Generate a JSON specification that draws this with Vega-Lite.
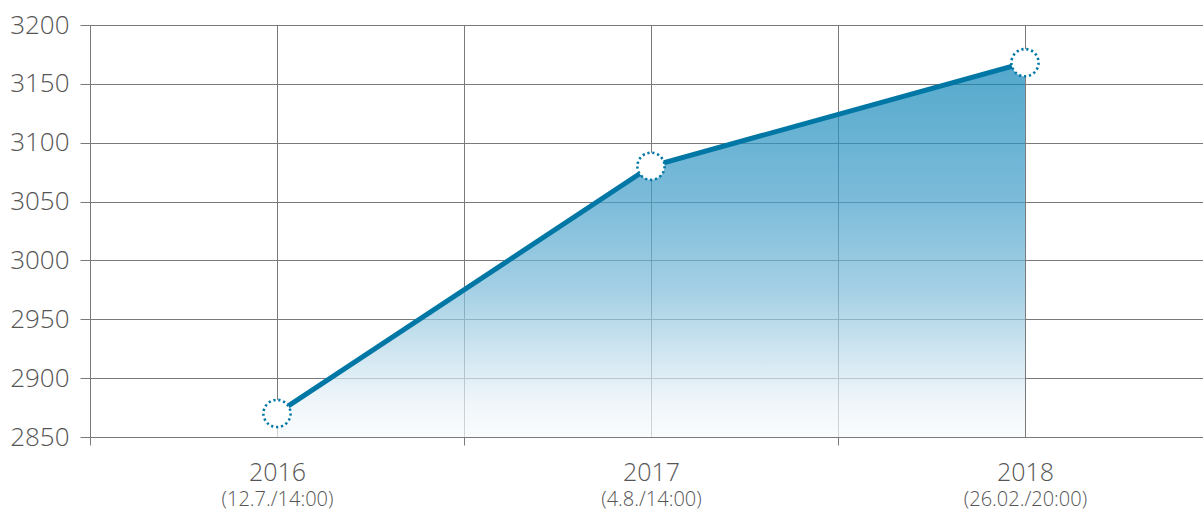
{
  "$schema": "https://vega.github.io/schema/vega-lite/v6.json",
  "width": 1113,
  "height": 412,
  "autosize": {"type": "none"},
  "padding": {"left": 90, "top": 25, "right": 0, "bottom": 76},
  "config": {
    "view": {"stroke": null},
    "font": "Open Sans",
    "axis": {"labelFont": "Open Sans", "labelFontWeight": 300, "labelColor": "#555555", "title": null, "gridColor": "#7a7a7a", "gridOpacity": 1, "gridWidth": 1, "tickColor": "#7a7a7a", "domainColor": "#7a7a7a"}
  },
  "data": {
    "values": [
      {"year": 2016, "value": 2870, "date": "(12.7./14:00)"},
      {"year": 2017, "value": 3080, "date": "(4.8./14:00)"},
      {"year": 2018, "value": 3168, "date": "(26.02./20:00)"}
    ]
  },
  "encoding": {
    "x": {"field": "year", "type": "quantitative", "scale": {"domain": [2015.5, 2018.476], "nice": false, "zero": false}},
    "y": {"field": "value", "type": "quantitative", "scale": {"domain": [2850, 3200], "nice": false, "zero": false}}
  },
  "layer": [
    {
      "mark": {
        "type": "area",
        "fillOpacity": 0.7,
        "color": {
          "gradient": "linear",
          "x1": 1, "y1": 1, "x2": 1, "y2": 0,
          "stops": [
            {"offset": 0, "color": "#f8fbfc"},
            {"offset": 0.1, "color": "#e7f1f8"},
            {"offset": 0.23, "color": "#badae9"},
            {"offset": 0.39, "color": "#7ebcda"},
            {"offset": 0.63, "color": "#459fca"},
            {"offset": 0.97, "color": "#0f86b8"},
            {"offset": 1, "color": "#0c84b7"}
          ]
        }
      },
      "encoding": {
        "x": {"field": "year", "type": "quantitative", "axis": {"orient": "bottom", "values": [2015.5, 2016.5, 2017.5], "grid": true, "ticks": true, "tickSize": 8, "labels": false, "domain": false}},
        "y": {"field": "value", "type": "quantitative", "axis": {"values": [2850, 2900, 2950, 3000, 3050, 3100, 3150, 3200], "format": "d", "grid": true, "tickSize": 10, "labelFontSize": 26, "labelPadding": 11, "domain": false}},
        "y2": {"datum": 2850}
      }
    },
    {
      "mark": {"type": "line", "stroke": "#0077a4", "strokeWidth": 5},
      "encoding": {
        "x": {"field": "year", "type": "quantitative", "axis": {"orient": "bottom", "values": [2016, 2017, 2018], "grid": true, "ticks": false, "tickSize": 0, "domain": false, "format": "d", "labelFontSize": 25, "labelBaseline": "alphabetic", "labelPadding": 43}}
      }
    },
    {
      "mark": {"type": "point", "shape": "circle", "filled": false, "fill": "#ffffff", "fillOpacity": 1, "opacity": 1, "stroke": "#0077a4", "strokeWidth": 2.6, "strokeDash": [2.2, 2.8], "size": 740},
      "encoding": {
        "x": {"field": "year", "type": "quantitative", "axis": {"orient": "bottom", "values": [2016, 2017, 2018], "grid": false, "ticks": false, "tickSize": 0, "domain": false, "labelExpr": "datum.value == 2016 ? '(12.7./14:00)' : datum.value == 2017 ? '(4.8./14:00)' : '(26.02./20:00)'", "labelFontSize": 20, "labelBaseline": "alphabetic", "labelPadding": 68}}
      }
    }
  ],
  "resolve": {"axis": {"x": "independent"}}
}
